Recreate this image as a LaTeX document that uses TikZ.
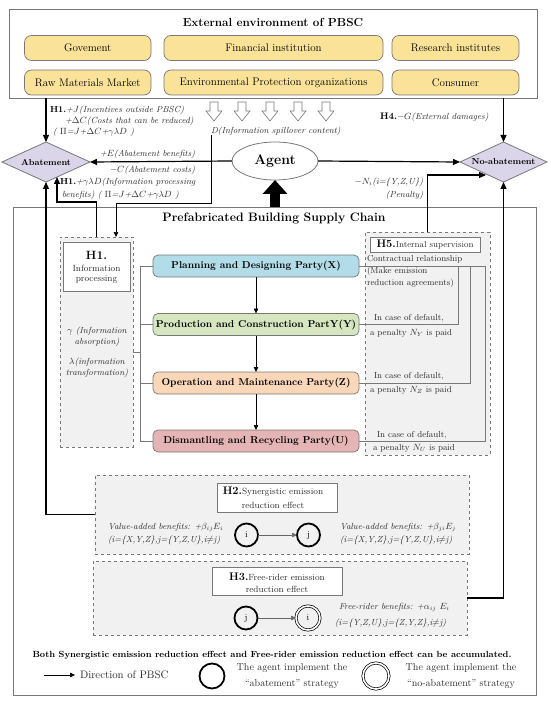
\documentclass[tikz,border=0pt]{standalone}
\usetikzlibrary{arrows.meta,shapes.geometric,calc}
\definecolor{yel}{RGB}{250,226,153}
\definecolor{lav}{RGB}{219,213,233}
\definecolor{cblue}{RGB}{178,220,232}
\definecolor{cgreen}{RGB}{214,230,192}
\definecolor{corange}{RGB}{250,215,185}
\definecolor{cred}{RGB}{229,180,180}
\definecolor{dfill}{RGB}{241,241,241}
\definecolor{bord}{RGB}{120,120,120}
\definecolor{txt}{RGB}{45,45,45}
\newcommand{\myfs}[1]{\fontsize{#1}{#1}\selectfont}
\begin{document}
\begin{tikzpicture}[x=1pt,y=-1pt,
  every node/.style={inner sep=0pt, outer sep=0pt},
  ybox/.style={draw=bord, fill=yel, rounded corners=7pt, minimum height=25pt, font=\myfs{11}, line width=0.7pt},
  frm/.style={draw=bord, line width=0.8pt},
  cbox/.style={draw=bord, rounded corners=5pt, minimum width=206pt, minimum height=22pt, font=\bfseries\myfs{10}, line width=0.7pt},
  dbox/.style={draw=bord, dashed, fill=dfill, line width=0.7pt},
  wbox/.style={draw=bord, fill=white, line width=0.8pt},
  itx/.style={font=\itshape\myfs{8.8}, text=txt},
  rtx/.style={font=\myfs{8.7}, text=txt},
  arr/.style={-{Triangle[length=7pt,width=6pt]}, line width=1.2pt},
  tarr/.style={-{Triangle[length=5pt,width=4.5pt]}, line width=0.6pt},
  gline/.style={draw=bord, line width=0.7pt},
  dia/.style={diamond, draw=bord, fill=lav, aspect=2.2, inner sep=0pt, line width=0.8pt, font=\bfseries\myfs{8.7}},
  ab/.style={circle, draw, line width=1.8pt, minimum size=23pt, font=\myfs{9}},
  nab/.style={circle, draw, double, double distance=1.6pt, line width=0.7pt, minimum size=24pt, font=\myfs{9}},
]
\useasboundingbox (0,0) rectangle (550,703);
\fill[white] (0,0) rectangle (550,703);

% external environment
\node[frm, minimum width=528pt, minimum height=89pt] (ext) at (273,53.5) {};
\node[font=\bfseries\myfs{11.7}] (exttitle) at (273,22) {External environment of PBSC};
\node[ybox, minimum width=126.5pt] (gov) at (87.75,48) {Govement};
\node[ybox, minimum width=219pt] (fin) at (273.5,48) {Financial institution};
\node[ybox, minimum width=127pt] (res) at (455.5,48) {Research institutes};
\node[ybox, minimum width=126.5pt] (raw) at (87.75,82.5) {Raw Materials Market};
\node[ybox, minimum width=219pt] (env) at (273.5,82.5) {Environmental Protection organizations};
\node[ybox, minimum width=127pt] (con) at (455.5,82.5) {Consumer};

% hollow arrows
\foreach \x in {214,242,270,298,326}
  \draw[draw=bord, fill=white, line width=0.6pt] (\x-4,102) -- (\x+4,102) -- (\x+4,111) -- (\x+8,111) -- (\x,121) -- (\x-8,111) -- (\x-4,111) -- cycle;
\node[itx, anchor=west] (dlab) at (211,131) {D(Information spillover content)};

% diamonds and agent
\node[dia, minimum width=88pt, minimum height=40pt] (abat) at (46,162) {Abatement};
\node[dia, minimum width=87pt, minimum height=40pt] (noab) at (503.5,162) {No-abatement};
\node[ellipse, draw=bord, fill=white, minimum width=86pt, minimum height=38pt, font=\bfseries\myfs{14}, line width=0.8pt] (agent) at (275,161) {Agent};

% texts around
\node[itx, anchor=west] (h1a) at (50,110) {\textcolor{black}{\upshape\bfseries H1.}+$J$(Incentives outside PBSC)};
\node[itx, anchor=west] (h1b) at (65,121) {+$\Delta C$(Costs that can be reduced)};
\node[itx, anchor=west] (h1c) at (53,132) {( $\Pi$=$J$+$\Delta C$+$\gamma\lambda D$ )};
\node[itx, anchor=west] (eben) at (100,154) {+$E$(Abatement benefits)};
\node[itx, anchor=west] (ccost) at (110,170) {$-C$(Abatement costs)};
\node[itx, anchor=west] (h1d) at (60,182) {\textcolor{black}{\upshape\bfseries H1.}+$\gamma\lambda D$(Information processing};
\node[itx, anchor=west] (h1e) at (62,195) {benefits) ( $\Pi$=$J$+$\Delta C$+$\gamma\lambda D$ )};
\node[itx, anchor=west] (h4) at (380,117) {\textcolor{black}{\upshape\bfseries\myfs{9.5}H4.}$-G$(External damages)};
\node[itx, anchor=east] (pen1) at (423,182) {$-N_i$(i=\{Y,Z,U\})};
\node[itx, anchor=east] (pen2) at (423,195) {(Penalty)};

% PBSC frame
\node[frm, minimum width=523pt, minimum height=488pt] (pbsc) at (274.5,451) {};
\node[font=\bfseries\myfs{12.2}] (ptitle) at (274,218) {Prefabricated Building Supply Chain};

% information processing
\node[dbox, minimum width=73pt, minimum height=210pt] (ip) at (96.5,342) {};
\node[wbox, minimum width=67pt, minimum height=49pt] (ipw) at (96.5,266.5) {};
\node[font=\bfseries\myfs{12}] (ipt1) at (96.5,255) {H1.};
\node[font=\myfs{9}, text=txt] (ipt2) at (96.5,268) {Information};
\node[font=\myfs{9}, text=txt] (ipt3) at (96.5,279.5) {processing};
\node[itx, align=center, font=\itshape\fontsize{8.8}{11}\selectfont] (gam) at (97,336.5) {$\gamma$ (Information\\absorption)};
\node[itx, align=center, font=\itshape\fontsize{8.8}{10.5}\selectfont] (lam) at (97,368) {$\lambda$(information\\transformation)};

% chain
\node[cbox, fill=cblue] (P) at (256,266) {Planning and Designing Party(X)};
\node[cbox, fill=cgreen] (Pr) at (256,324.5) {Production and Construction PartY(Y)};
\node[cbox, fill=corange] (O) at (256,383) {Operation and Maintenance Party(Z)};
\node[cbox, fill=cred] (Dm) at (256,441) {Dismantling and Recycling Party(U)};
\draw[tarr] (P.south) -- (Pr.north);
\draw[tarr] (Pr.south) -- (O.north);
\draw[tarr] (O.south) -- (Dm.north);

% left bracket
\coordinate (bl) at (140,0);
\coordinate (iptick) at (133,352);
\draw[gline] (P.west) -- (P.west -| bl) -- (Dm.west -| bl) -- (Dm.west);
\draw[gline] (Pr.west) -- (Pr.west -| bl);
\draw[gline] (O.west) -- (O.west -| bl);
\draw[gline] (iptick) -- (iptick -| bl);

% H5
\node[dbox, minimum width=125pt, minimum height=223pt] (h5) at (427.5,343.5) {};
\node[wbox, minimum width=110pt, minimum height=15pt] (h5w) at (425,244.5) {{\bfseries\myfs{11}H5.}{\myfs{8.7}\color{txt}Internal supervision}};
\node[rtx, anchor=west] (cr1) at (367,259) {Contractual relationship};
\node[rtx, anchor=west] (cr2) at (367,271) {(Make emission};
\node[rtx, anchor=west] (cr3) at (367,283) {reduction agreements)};
\coordinate (ra) at (458,0);
\coordinate (rb) at (470,0);
\coordinate (rc) at (485,0);
\draw[gline] (P.east) -- (P.east -| rc) |- (Dm.east);
\draw[gline] (P.east -| ra) |- (Pr.east);
\draw[gline] (P.east -| rb) |- (O.east);
\node[rtx, anchor=west] (dy1) at (374,318) {In case of default,};
\node[rtx, anchor=west] (dy2) at (370,333) {a penalty $N_Y$ is paid};
\node[rtx, anchor=west] (dz1) at (374,376) {In case of default,};
\node[rtx, anchor=west] (dz2) at (370,390) {a penalty $N_Z$ is paid};
\node[rtx, anchor=west] (du1) at (377,435) {In case of default,};
\node[rtx, anchor=west] (du2) at (373,448) {a penalty $N_U$ is paid};

% H2
\node[dbox, minimum width=374pt, minimum height=79pt] (h2) at (282,514.5) {};
\node[wbox, minimum width=120pt, minimum height=29pt] (h2w) at (277,497.5) {};
\node (h2t1) at (273,492) {{\bfseries\myfs{11}H2.}{\myfs{9}\color{txt}Synergistic emission}};
\node[font=\myfs{9}, text=txt] (h2t2) at (273,505) {reduction effect};
\node[ab] (ci) at (246.5,535) {i};
\node[ab] (cj) at (308.5,535) {j};
\draw[tarr, draw=black!60] (ci) -- (cj);
\node[itx, anchor=west] (v1) at (108,527) {Value-added benefits: +$\beta_{ij}E_i$};
\node[itx, anchor=west] (v2) at (108,540) {(i=\{X,Y,Z\},j=\{Y,Z,U\},i$\neq$j)};
\node[itx, anchor=west] (v3) at (340,527) {Value-added benefits: +$\beta_{ji}E_j$};
\node[itx, anchor=west] (v4) at (340,540) {(i=\{X,Y,Z\},j=\{Y,Z,U\},i$\neq$j)};

% H3
\node[dbox, minimum width=374pt, minimum height=74pt] (h3) at (280,598) {};
\node[wbox, minimum width=130pt, minimum height=28pt] (h3w) at (277,581) {};
\node (h3t1) at (277,577) {{\bfseries\myfs{11}H3.}{\myfs{9}\color{txt}Free-rider emission}};
\node[font=\myfs{9}, text=txt] (h3t2) at (277,589) {reduction effect};
\node[ab] (fj) at (246,618) {j};
\node[nab] (fi) at (308,618) {i};
\draw[tarr, draw=black!60] (fj) -- (fi);
\node[itx, anchor=west] (f1) at (339,607) {Free-rider benefits: +$\alpha_{ij}$ $E_i$};
\node[itx, anchor=west] (f2) at (335,623) {(i=\{Y,Z,U\},j=\{Z,Y,Z\},i$\neq$j)};

% bottom
\node[font=\bfseries\myfs{8.9}] (acc) at (272,655) {Both Synergistic emission reduction effect and Free-rider emission reduction effect can be accumulated.};
\coordinate (la) at (44,675);
\node[anchor=west, font=\myfs{10.8}, text=txt] (ldir) at (80,675) {Direction of PBSC};
\draw[tarr] (la) -- ([xshift=-5pt]ldir.west);
\node[ab, minimum size=25pt] (lab) at (212,676) {};
\node[align=center, font=\fontsize{10}{16}\selectfont, text=txt] (labt) at (292,676) {The agent implement the\\“abatement” strategy};
\node[nab, minimum size=26pt] (lnab) at (376,676) {};
\node[align=center, font=\fontsize{10}{16}\selectfont, text=txt] (lnabt) at (461,676) {The agent implement the\\“no-abatement” strategy};

% connectors
\draw[arr] (ext.south -| abat.north) -- (abat.north);
\draw[arr] (ext.south -| noab.north) -- (noab.north);
\draw[arr] (agent.west) -- (abat.east);
\draw[arr] (agent.east) -- (noab.west);
\draw[arr] (h2.west) -| (abat.south);
\coordinate (abhit) at (57,177);
\draw[arr] (ip.north) |- ($(abhit)+(0,25)$) -- (abhit);
\coordinate (dturn) at (116,203);
\draw[tarr] (dlab.south west) |- (dturn) -- (dturn |- ip.north);
\coordinate (penhit) at (486,175);
\draw[arr] (h5.north) |- (penhit);
\draw[arr] (h3.east) -| (noab.south);
\draw[-{Triangle[length=14pt,width=24pt]}, line width=10pt] (pbsc.north -| agent.south) -- (agent.south);
\end{tikzpicture}
\end{document}
